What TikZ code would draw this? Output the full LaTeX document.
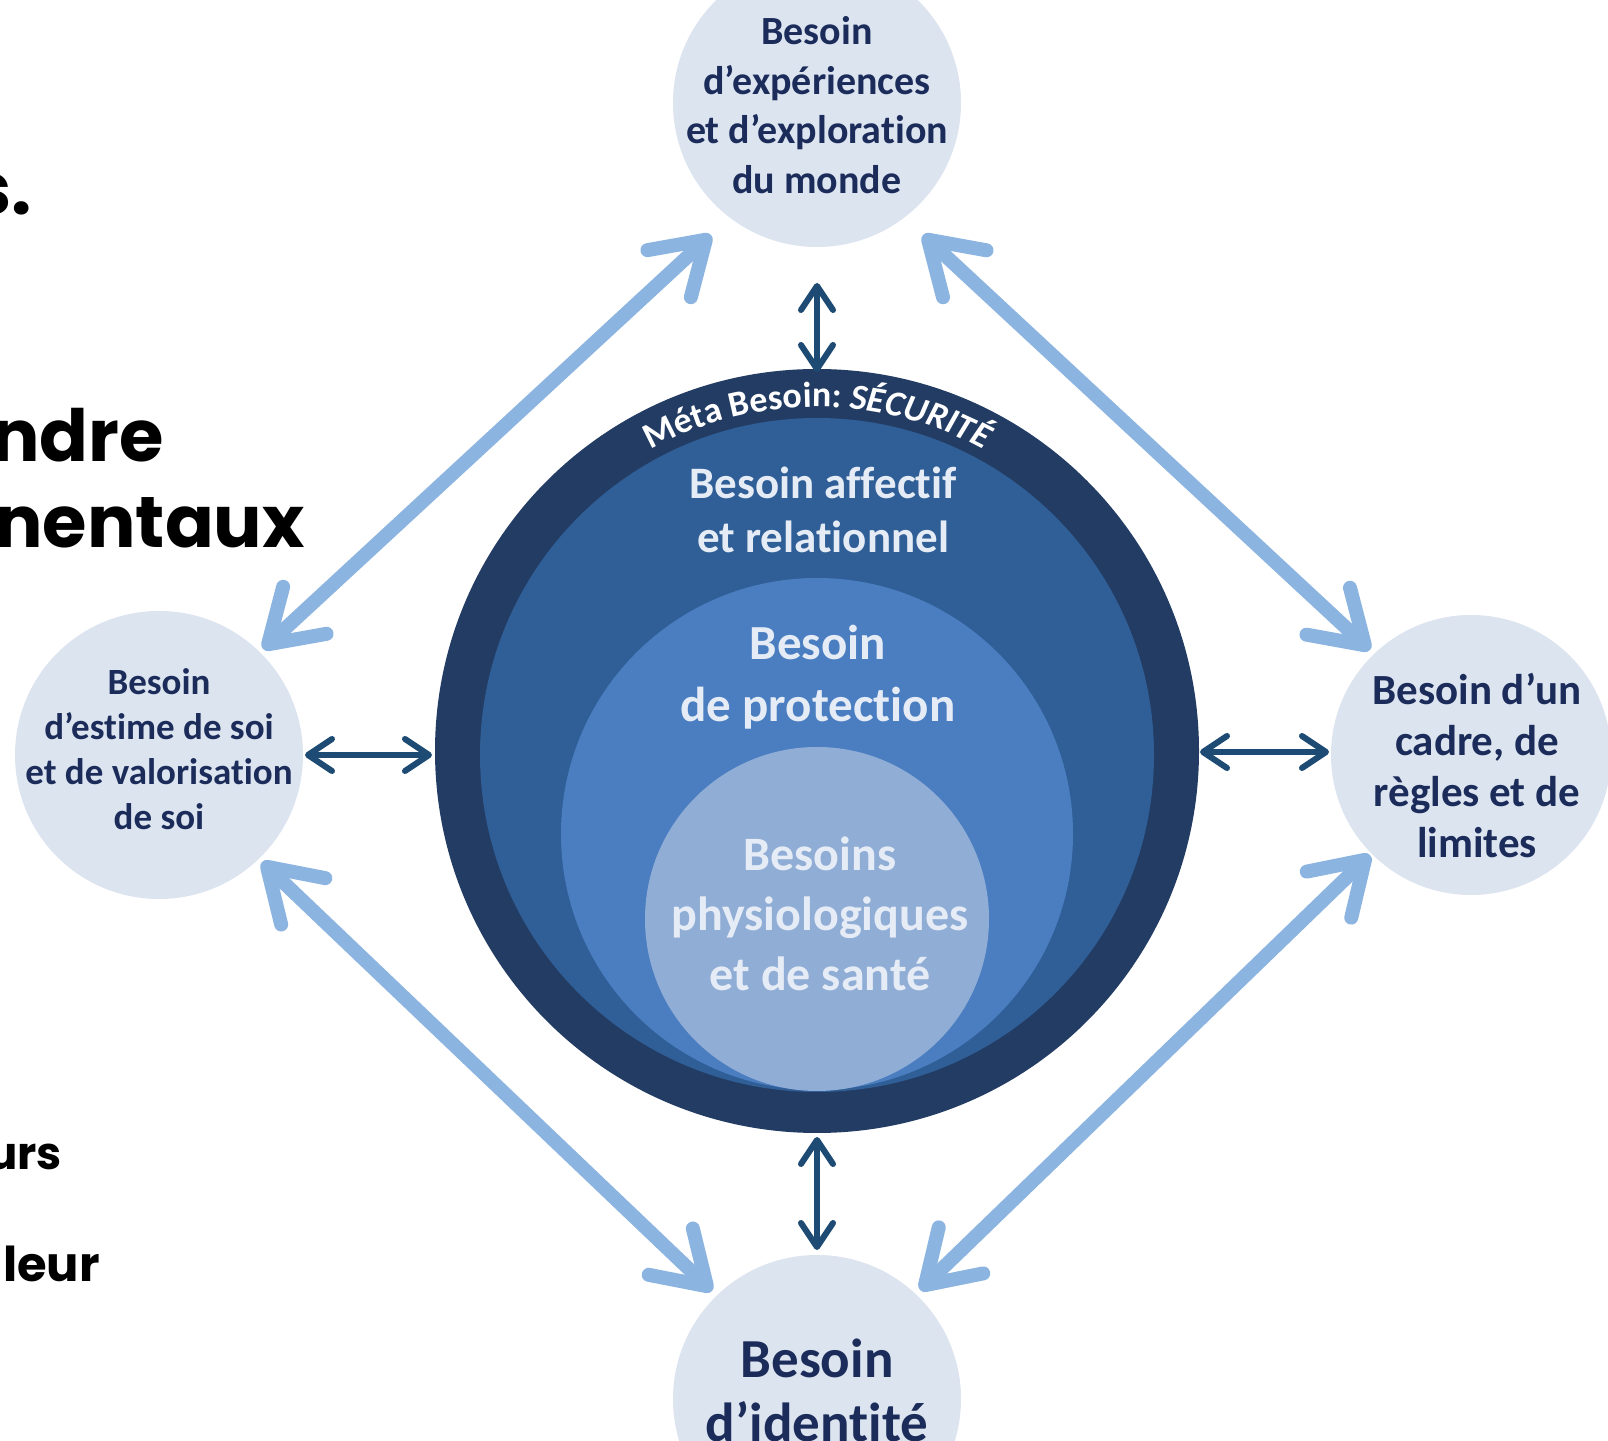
\documentclass[tikz,border=0pt]{standalone}
\usepackage{fontspec}
\usetikzlibrary{arrows.meta,decorations.text,calc}
\newfontfamily\calfont{Carlito}[Ligatures={NoCommon}]
\newfontfamily\slidefont{Poppins}
\newcommand\setfs[2]{\fontsize{#1}{#2}\selectfont}
\newcommand\arcfnt{\calfont\bfseries\setfs{36}{36}}
\definecolor{ringnavy}{HTML}{233C64}
\definecolor{layertwo}{HTML}{2F5F96}
\definecolor{layerthree}{HTML}{4A7EC1}
\definecolor{layerfour}{HTML}{90ADD6}
\definecolor{satfill}{HTML}{DCE4F0}
\definecolor{lightarr}{HTML}{8CB4E1}
\definecolor{darkarr}{HTML}{1E4B73}
\definecolor{sattext}{HTML}{1C2C5A}
\definecolor{intext}{HTML}{E6ECF6}
\tikzset{
  disc/.style={circle, inner sep=0pt, outer sep=0pt, draw=none},
  sat/.style={disc, fill=satfill, minimum size=288pt},
  sattxt/.style={align=center, text=sattext, font=\calfont\bfseries, inner sep=0pt},
  intxt/.style={align=center, text=intext, font=\calfont\bfseries, inner sep=0pt},
  frag/.style={anchor=base east, inner sep=0pt, font=\slidefont\bfseries, text=black},
  larr/.style={draw=lightarr, line width=14pt, line cap=round,
    {Straight Barb[length=50pt,width=64pt,round]}-{Straight Barb[length=50pt,width=64pt,round]}},
  darr/.style={draw=darkarr, line width=6pt,
    {Straight Barb[length=24pt,width=32pt,round]}-{Straight Barb[length=24pt,width=32pt,round]}}
}
\begin{document}
\begin{tikzpicture}[x=1pt,y=1pt]
\useasboundingbox (0,0) rectangle (1608,1440);
\fill[white] (0,0) rectangle (1608,1440);

% background slide fragments
\node[frag, font=\slidefont\bfseries\setfs{72}{80}] (f1) at (32,1225) {s.};
\node[frag, font=\slidefont\bfseries\setfs{72}{80}] (f2) at (164,978) {ndre};
\node[frag, font=\slidefont\bfseries\setfs{72}{80}] (f3) at (305,892) {nentaux};
\node[frag, font=\slidefont\bfseries\setfs{45}{50}] (f4) at (62,270) {urs};
\node[frag, font=\slidefont\bfseries\setfs{48}{50}] (f5) at (100,158) {leur};

% central circles
\node[disc, fill=ringnavy, minimum size=764pt] (M) at (817,689) {};
\node[disc, fill=layertwo, minimum size=674pt] (C2) at (817,685) {};
\node[disc, fill=layerthree, minimum size=512pt] (C3) at (817,606) {};
\node[disc, fill=layerfour, minimum size=344pt] (C4) at (817,521) {};

% satellites
\node[sat] (T) at (817,1337) {};
\node[sat] (L) at (159,685) {};
\node[sat, minimum size=280pt] (R) at (1471,685) {};
\node[sat] (B) at (817,41) {};

% arc text
\path[decorate, decoration={text along path, text align=center, text color=white,
  text={|\arcfnt|Méta Besoin: |\arcfnt\itshape|SÉCURITÉ}}]
  ($(M)+(140:344)$) arc (140:40:344);

% inner texts
\node[intxt, font=\calfont\bfseries\setfs{45}{54}] (tA) at (823,930) {Besoin affectif\\et relationnel};
\node[intxt, font=\calfont\bfseries\setfs{49}{62}] (tP) at (818,763) {Besoin\\de protection};
\node[intxt, font=\calfont\bfseries\setfs{48}{60}] (tPh) at (820,526) {Besoins\\physiologiques\\et de santé};

% satellite texts
\node[sattxt, font=\calfont\bfseries\setfs{40}{49.5}] (tT) at (817,1335) {Besoin\\d’expériences\\et d’exploration\\du monde};
\node[sattxt, font=\calfont\bfseries\setfs{37}{45}] (tL) at (159,691) {Besoin\\d’estime de soi\\et de valorisation\\de soi};
\node[sattxt, font=\calfont\bfseries\setfs{43}{51}] (tR) at (1477,674) {Besoin d’un\\cadre, de\\règles et de\\limites};
\node[sattxt, font=\calfont\bfseries\setfs{55}{64}] (tB) at (817,50) {Besoin\\d’identité};

% light arrow end points
\coordinate (tlA) at ($(L)+(104,106)$);
\coordinate (tlB) at ($(T)+(-106,-132)$);
\coordinate (trA) at ($(T)+(106,-132)$);
\coordinate (trB) at ($(R)+(-101,105)$);
\coordinate (blA) at ($(L)+(103,-107)$);
\coordinate (blB) at ($(B)+(-105,108)$);
\coordinate (brA) at ($(B)+(103,109)$);
\coordinate (brB) at ($(R)+(-101,-100)$);
\draw[larr] (tlA) -- (tlB);
\draw[larr] (trA) -- (trB);
\draw[larr] (blA) -- (blB);
\draw[larr] (brA) -- (brB);

% dark arrows
\draw[darr] ($(T.south)+(0,-36)$) -- ($(M.north)+(0,-3)$);
\draw[darr] ($(M.south)+(0,-4)$) -- ($(B.north)+(0,5)$);
\draw[darr] ($(L.east)+(2,0)$) -- ($(L.east -| M.west)+(-3,0)$);
\draw[darr] ($(M.east)+(1,-1)$) -- ($(M.east -| R.west)+(-2,-1)$);
\end{tikzpicture}
\end{document}
